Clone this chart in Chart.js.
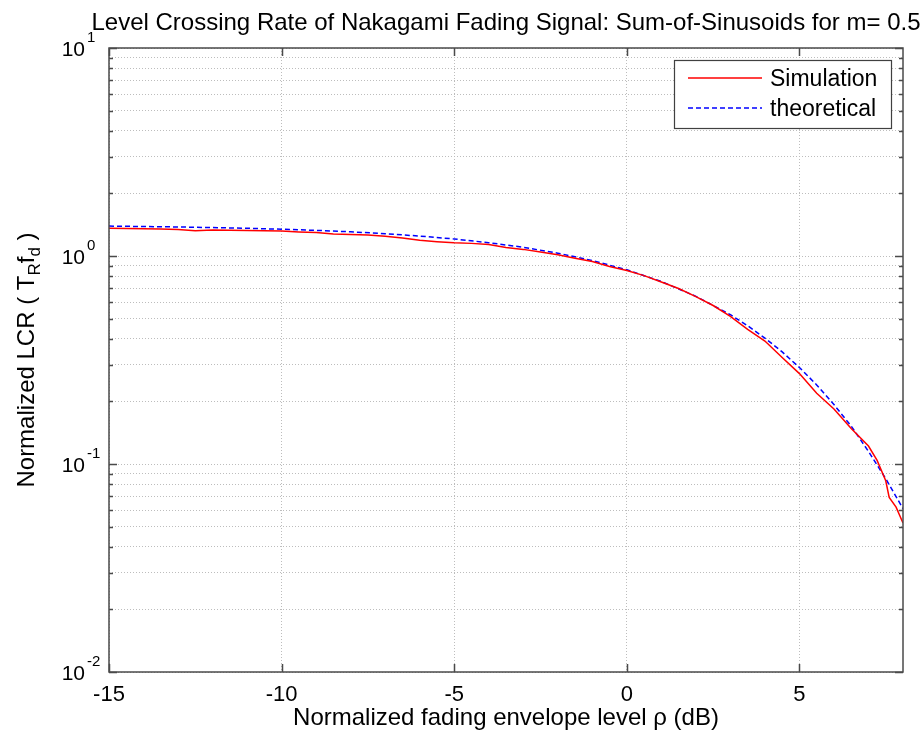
<!DOCTYPE html>
<html>
<head>
<meta charset="utf-8">
<script src="https://cdn.jsdelivr.net/npm/chart.js@4.4.0/dist/chart.umd.min.js"></script>
<style>
  html, body { margin: 0; padding: 0; background: #fff; }
</style>
</head>
<body>
<canvas id="lcrChart" width="924" height="743"></canvas>
<script>
// text
const titleText = 'Level Crossing Rate of Nakagami Fading Signal: Sum-of-Sinusoids for m= 0.5';
const xTitle = 'Normalized fading envelope level \u03c1 (dB)';
const yTitleParts = [['Normalized LCR ( T', false], ['R', true], ['f', false], ['d', true], [' )', false]];

// axes
const xTicks = [-15, -10, -5, 0, 5];
const yDecades = [0.01, 0.1, 1, 10];
const yExponents = ['-2', '-1', '0', '1'];

// simulated LCR
const simLevel = [-15, -14.5, -14, -13.5, -13, -12.5, -12, -11.5, -11, -10.5, -10, -9.5, -9, -8.5, -8,
  -7.5, -7, -6.5, -6, -5.5, -5, -4.5, -4, -3.5, -3, -2.5, -2, -1.5, -1, -0.5, 0, 0.5, 1, 1.5, 2, 2.5,
  3, 3.5, 4, 4.5, 5, 5.5, 6, 6.5, 7, 7.25, 7.5, 7.6, 7.8, 8];
const simLCR = [1.358, 1.356, 1.352, 1.347, 1.340, 1.324, 1.333, 1.330, 1.326, 1.322, 1.318, 1.306, 1.296, 1.276, 1.270,
  1.262, 1.244, 1.222, 1.190, 1.172, 1.158, 1.150, 1.136, 1.098, 1.076, 1.044, 1.014, 0.975, 0.940, 0.890, 0.852, 0.805, 0.750, 0.698, 0.638, 0.578,
  0.512, 0.444, 0.390, 0.325, 0.272, 0.219, 0.184, 0.148, 0.122, 0.104, 0.083, 0.069, 0.062, 0.052];

// theoretical LCR (blue dashed curve)
const theoLevel = [-15, -14, -13, -12, -11, -10, -9, -8, -7, -6, -5, -4, -3, -2, -1, 0, 1, 2, 3,
  3.5, 4, 4.5, 5, 5.5, 6, 6.5, 7, 7.5, 8];
const theoLCR = [1.392, 1.386, 1.379, 1.370, 1.359, 1.345, 1.328, 1.307, 1.280, 1.247, 1.207, 1.159, 1.101, 1.032, 0.951, 0.858, 0.754, 0.640, 0.522,
  0.462, 0.403, 0.346, 0.291, 0.240, 0.193, 0.152, 0.115, 0.085, 0.061];

const FONT = '"Liberation Sans", Arial, Helvetica, sans-serif';

const toPoints = (xs, ys) => xs.map((x, i) => ({x: x, y: ys[i]}));

// grid lines on every 1..9 x 10^n of the log axis
const yGrid = [];
for (let d = 0; d < yDecades.length - 1; d++) {
  for (let k = 1; k <= 9; k++) yGrid.push(yDecades[d] * k);
}
yGrid.push(yDecades[yDecades.length - 1]);

const matlabAxes = {
  id: 'matlabAxes',
  afterDraw(chart) {
    const ctx = chart.ctx;
    const a = chart.chartArea;
    const xs = chart.scales.x;
    const ys = chart.scales.y;
    ctx.save();

    // box + inward ticks
    ctx.strokeStyle = '#4a4a4a';
    ctx.lineWidth = 1.5;
    ctx.strokeRect(a.left, a.top, a.right - a.left, a.bottom - a.top);
    ctx.beginPath();
    xTicks.forEach(v => {
      const px = Math.round(xs.getPixelForValue(v)) + 0.5;
      ctx.moveTo(px, a.bottom); ctx.lineTo(px, a.bottom - 8);
      ctx.moveTo(px, a.top); ctx.lineTo(px, a.top + 8);
    });
    yGrid.forEach(v => {
      const py = Math.round(ys.getPixelForValue(v)) + 0.5;
      const len = yDecades.includes(v) ? 8 : 4;
      ctx.moveTo(a.left, py); ctx.lineTo(a.left + len, py);
      ctx.moveTo(a.right, py); ctx.lineTo(a.right - len, py);
    });
    ctx.stroke();

    // y tick labels 10^n
    ctx.fillStyle = '#000';
    ctx.textBaseline = 'alphabetic';
    yDecades.forEach((v, i) => {
      const py = ys.getPixelForValue(v);
      ctx.font = '21px ' + FONT;
      ctx.textAlign = 'right';
      ctx.fillText('10', a.left - 24, py + 8);
      ctx.font = '15px ' + FONT;
      ctx.textAlign = 'left';
      ctx.fillText(yExponents[i], a.left - 22, py - 6);
    });

    // y axis title with subscripts
    ctx.save();
    ctx.translate(26, (a.top + a.bottom) / 2);
    ctx.rotate(-Math.PI / 2);
    let total = 0;
    yTitleParts.forEach(([t, sub]) => {
      ctx.font = (sub ? '17px ' : '24px ') + FONT;
      total += ctx.measureText(t).width;
    });
    let cx = -total / 2;
    ctx.textAlign = 'left';
    yTitleParts.forEach(([t, sub]) => {
      ctx.font = (sub ? '17px ' : '24px ') + FONT;
      ctx.fillText(t, cx, sub ? 14 : 8);
      cx += ctx.measureText(t).width;
    });
    ctx.restore();

    // title
    ctx.font = '24px ' + FONT;
    ctx.textAlign = 'center';
    ctx.fillText(titleText, (a.left + a.right) / 2, 30);

    // legend
    const lx = 674, ly = 60, lw = 217, lh = 68;
    ctx.fillStyle = '#fff';
    ctx.fillRect(lx, ly, lw, lh);
    ctx.strokeStyle = '#404040';
    ctx.lineWidth = 1.2;
    ctx.strokeRect(lx + 0.5, ly + 0.5, lw, lh);
    chart.data.datasets.forEach((ds, i) => {
      const yy = ly + 18 + i * 30;
      ctx.strokeStyle = ds.borderColor;
      ctx.lineWidth = ds.borderWidth;
      ctx.setLineDash(ds.borderDash || []);
      ctx.beginPath();
      ctx.moveTo(lx + 14, yy); ctx.lineTo(lx + 88, yy);
      ctx.stroke();
      ctx.setLineDash([]);
      ctx.fillStyle = '#000';
      ctx.font = '23px ' + FONT;
      ctx.textAlign = 'left';
      ctx.textBaseline = 'middle';
      ctx.fillText(ds.label, lx + 96, yy + 2);
    });
    ctx.restore();
  }
};

const ctx = document.getElementById('lcrChart').getContext('2d');
new Chart(ctx, {
  type: 'line',
  data: {
    datasets: [
      {
        label: 'Simulation',
        data: toPoints(simLevel, simLCR),
        borderColor: '#ff0000',
        borderWidth: 1.5,
        pointRadius: 0,
        tension: 0
      },
      {
        label: 'theoretical',
        data: toPoints(theoLevel, theoLCR),
        borderColor: '#0000ff',
        borderWidth: 1.5,
        borderDash: [5, 3],
        pointRadius: 0,
        tension: 0
      }
    ]
  },
  options: {
    responsive: false,
    animation: false,
    devicePixelRatio: 1,
    layout: { padding: { left: 0, top: 48, right: 21, bottom: 0 } },
    plugins: {
      legend: { display: false },
      tooltip: { enabled: false }
    },
    scales: {
      x: {
        type: 'linear',
        min: -15,
        max: 8,
        afterBuildTicks: scale => { scale.ticks = xTicks.map(v => ({value: v})); },
        afterFit: scale => { scale.height = 71; },
        grid: { color: '#bdbdbd', lineWidth: 1, drawTicks: false },
        border: { display: false, dash: [1, 2] },
        ticks: { color: '#000', padding: 10, font: { family: FONT, size: 22 } },
        title: {
          display: true,
          text: xTitle,
          color: '#000',
          font: { family: FONT, size: 24 },
          padding: { top: 0, bottom: 10 }
        }
      },
      y: {
        type: 'logarithmic',
        min: 0.01,
        max: 10,
        afterBuildTicks: scale => { scale.ticks = yGrid.map(v => ({value: v})); },
        afterFit: scale => { scale.width = 109; },
        grid: { color: '#bdbdbd', lineWidth: 1, drawTicks: false },
        border: { display: false, dash: [1, 2] },
        ticks: { display: false }
      }
    }
  },
  plugins: [matlabAxes]
});
</script>
</body>
</html>
